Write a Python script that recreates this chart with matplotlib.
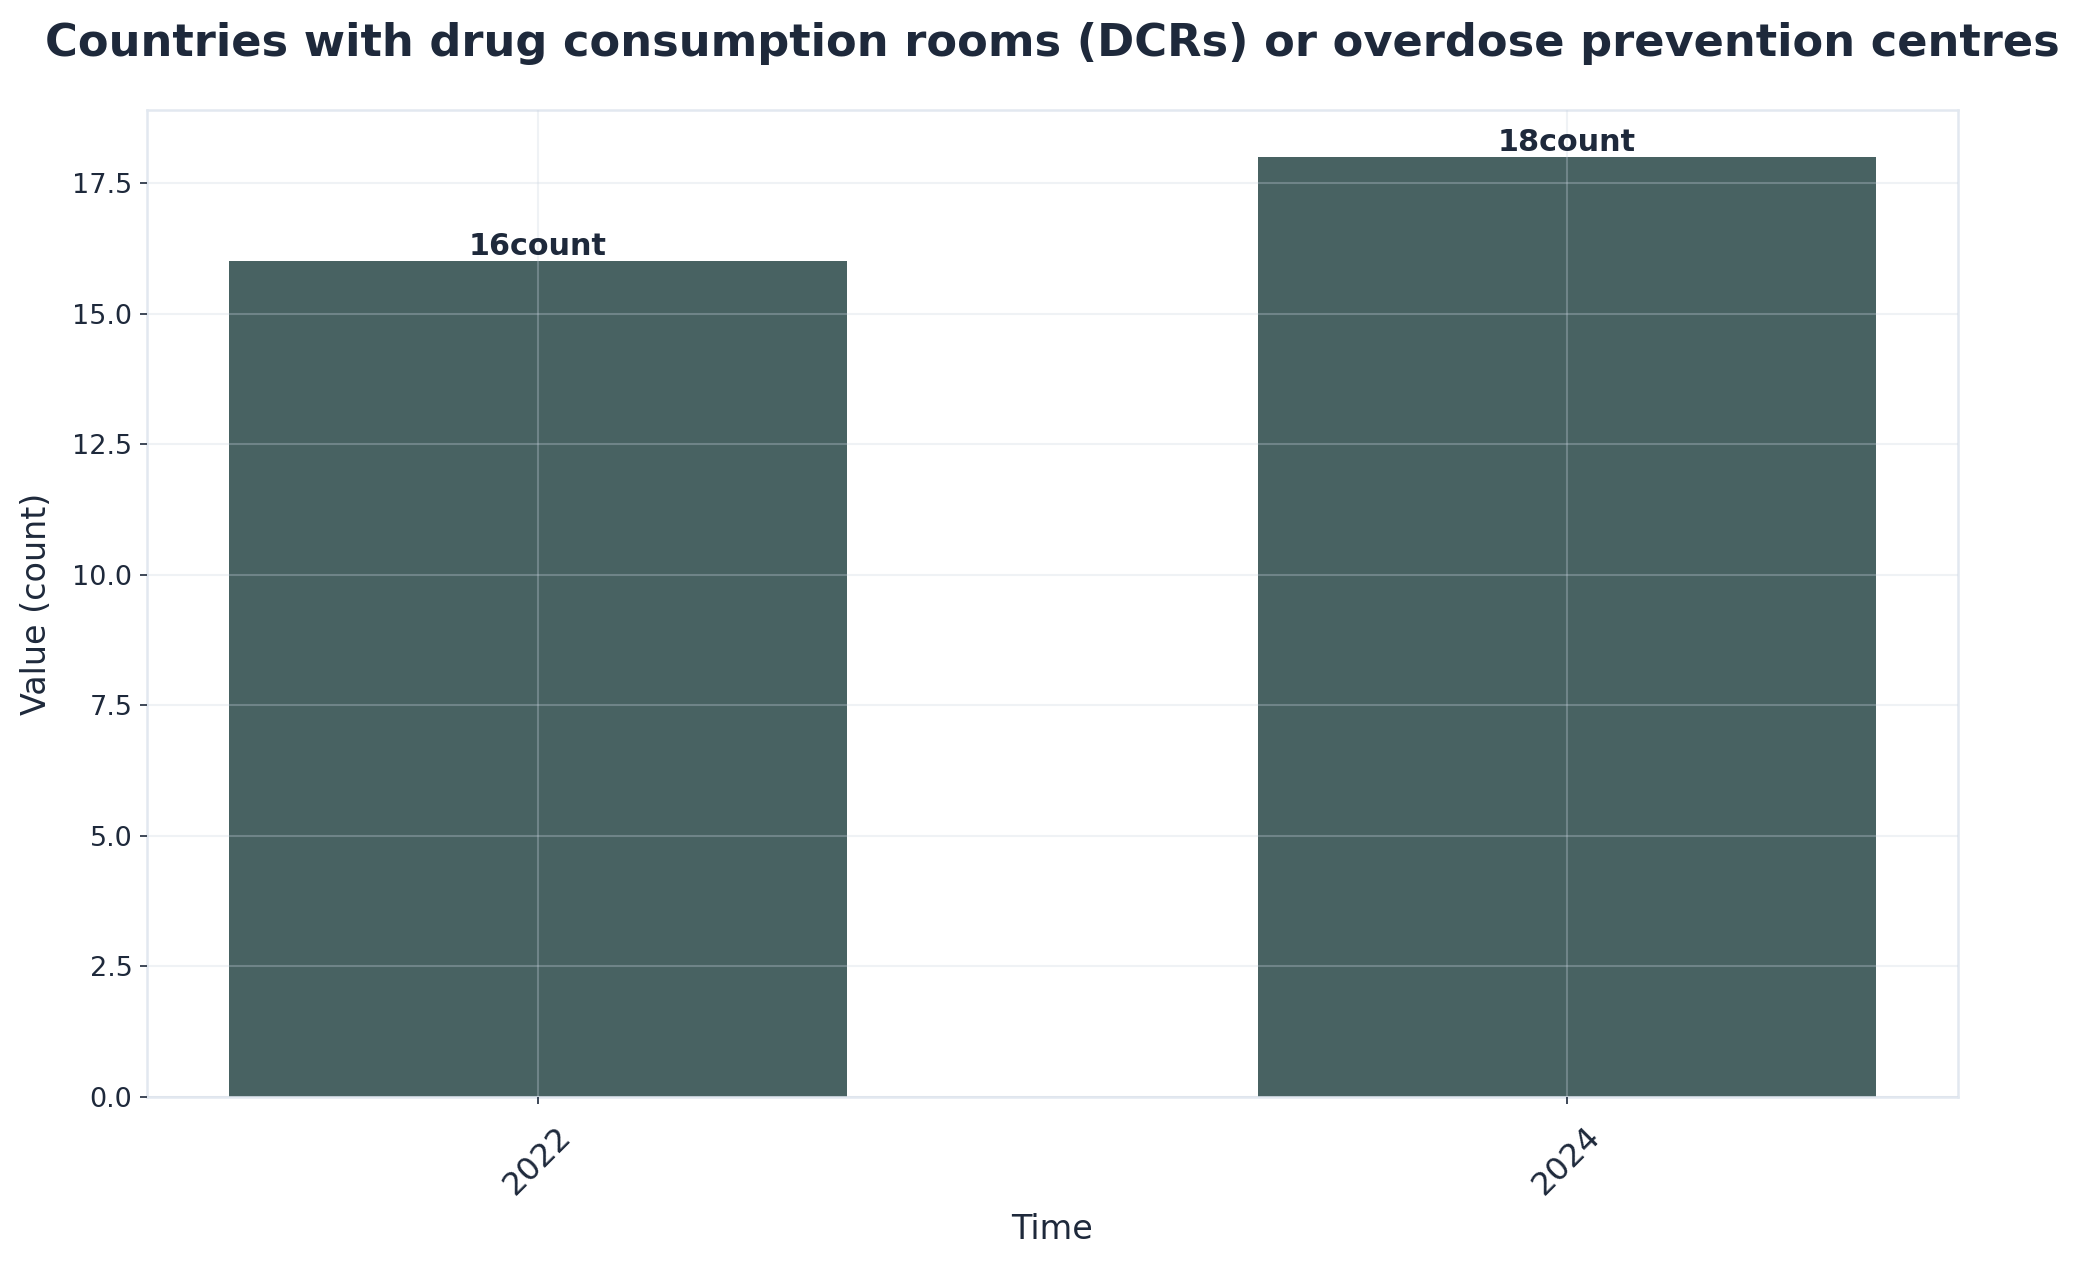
import matplotlib
matplotlib.use("Agg")
import matplotlib.pyplot as plt

years = ["2022", "2024"]
values = [16, 18]
unit = "count"
title = "Countries with drug consumption rooms (DCRs) or overdose prevention centres"

text_color = "#1e293b"
bar_color = "#486262"
spine_color = "#e2e8f0"

fig, ax = plt.subplots(figsize=(2073/150, 1265/150), dpi=150)
x = list(range(len(years)))
bars = ax.bar(x, values, width=0.6, color=bar_color, zorder=1)
for xi, v in zip(x, values):
    ax.text(xi, v, f"{v}{unit}", ha="center", va="bottom", fontsize=14.5,
            fontweight="bold", color=text_color, zorder=3)

ax.set_xticks(x)
ax.set_xticklabels(years, rotation=45, fontsize=15.5, color=text_color)
ax.tick_params(axis="y", labelsize=13, colors=text_color)
ax.tick_params(axis="x", colors=text_color, pad=8)
ax.set_xlabel("Time", fontsize=16, color=text_color, labelpad=6)
ax.set_ylabel("Value (count)", fontsize=16, color=text_color, labelpad=9)
ax.set_title(title, fontsize=21.5, fontweight="bold", color=text_color, pad=26)
ax.grid(True, color="#cbd5e1", alpha=0.3, linewidth=1, zorder=2)
ax.set_axisbelow(False)
for s in ax.spines.values():
    s.set_color(spine_color)
    s.set_linewidth(1.2)
fig.subplots_adjust(left=0.0709, right=0.9445, bottom=0.1328, top=0.913)
fig.savefig("out.png", dpi=150)
